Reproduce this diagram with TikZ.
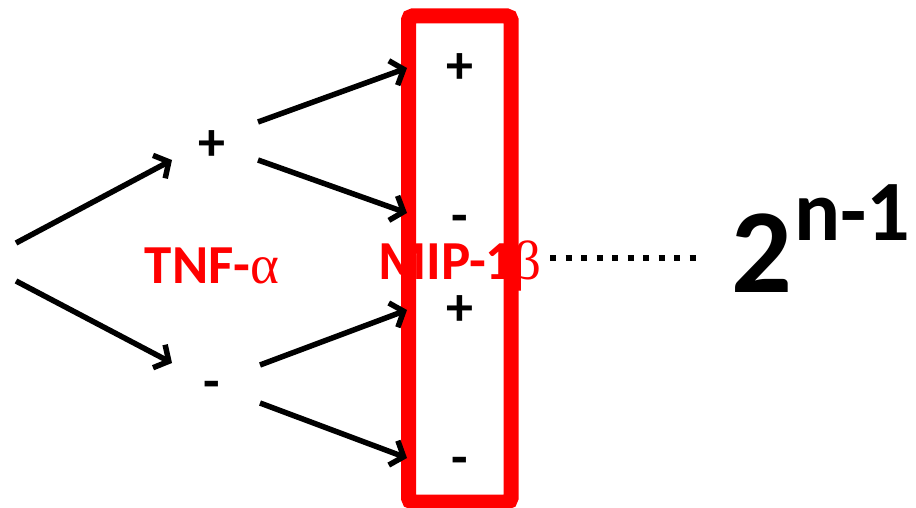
\documentclass[tikz,border=0pt]{standalone}
\usepackage{fontspec}
\setmainfont{Carlito}
\newfontfamily\grk{Liberation Serif}
\usetikzlibrary{arrows.meta}
\definecolor{pptred}{RGB}{255,0,0}
\tikzset{
  conn/.style={line width=5.5pt, -{Straight Barb[length=11pt,width=26pt,line width=5.5pt]}},
  sign/.style={font=\fontsize{54}{54}\selectfont\bfseries, inner sep=0pt},
  redlbl/.style={font=\fontsize{55}{55}\selectfont\bfseries, text=pptred, inner sep=0pt}
}
\begin{document}
\begin{tikzpicture}[x=1pt,y=-1pt]
\useasboundingbox (0,0) rectangle (916,508);
% red box
\draw[pptred, line width=15pt, rounded corners=4pt] (408.5,16) rectangle (511,502);
% points
\coordinate (r1) at (16,243);
\coordinate (r2) at (16,281);
\coordinate (p1) at (258,122);
\coordinate (p2) at (258,160);
\coordinate (m1) at (260,365);
\coordinate (m2) at (260,403);
\coordinate (t1) at (172,160);
\coordinate (t2) at (172,363);
\coordinate (a1) at (407,68);
\coordinate (a2) at (407,213);
\coordinate (a3) at (407,310);
\coordinate (a4) at (407,458);
% signs
\node[sign] (plus) at (212,146) {+};
\node[sign] (minus) at (212,390) {-};
\node[sign] (s1) at (460,69) {+};
\node[sign] (s2) at (460,224) {-};
\node[sign] (s3) at (460,311) {+};
\node[sign] (s4) at (460,466) {-};
% arrows
\draw[conn] (r1) -- (t1);
\draw[conn] (r2) -- (t2);
\draw[conn] (p1) -- (a1);
\draw[conn] (p2) -- (a2);
\draw[conn] (m1) -- (a3);
\draw[conn] (m2) -- (a4);
% labels
\node[redlbl] (tnf) at (212,266) {TNF-{\grk\mdseries α}};
\node[redlbl] (mip) at (460,266) {MIP-1{\grk\mdseries β}};
% dotted line
\coordinate (d1) at (550,258);
\coordinate (d2) at (700,258);
\draw[line width=6pt, dash pattern=on 6pt off 9.5pt] (d1) -- (d2);
% 2^{n-1}
\node[inner sep=0pt, anchor=base west] (two) at (731,292) {\fontsize{120}{120}\selectfont\bfseries 2};
\node[inner sep=0pt, anchor=base west] (exp) at (794,240) {\fontsize{86}{86}\selectfont\bfseries n-1};
\end{tikzpicture}
\end{document}
